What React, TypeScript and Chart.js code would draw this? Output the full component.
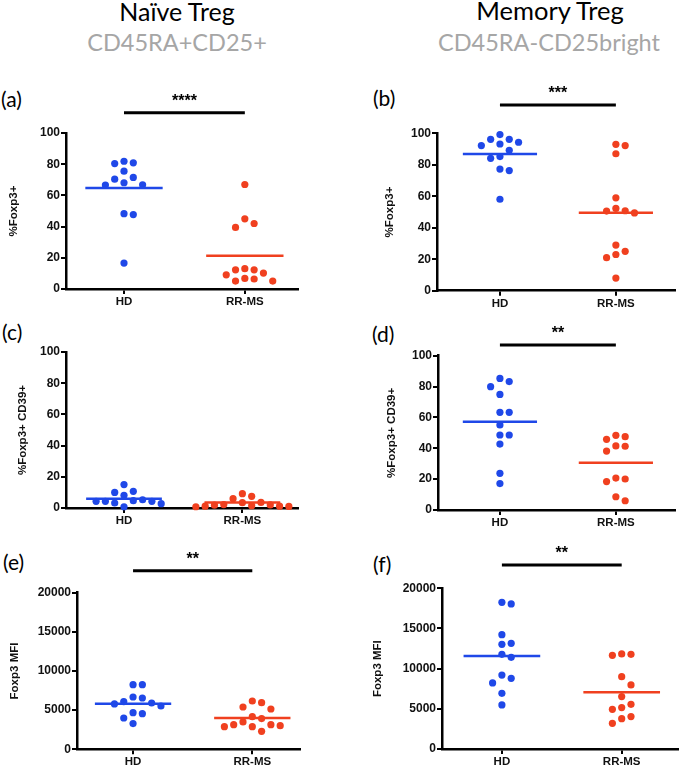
import React, { useEffect, useRef } from 'react';
import { Chart, registerables } from 'chart.js';
Chart.register(...registerables);

// ---------------- data ----------------
const categories = ['HD', 'RR-MS'];
const columnTitles = ['Naïve Treg', 'Memory Treg'];
const columnSubtitles = ['CD45RA+CD25+', 'CD45RA-CD25bright'];
const panelLabels = ['(a)', '(b)', '(c)', '(d)', '(e)', '(f)'];
const yTitles = ['%Foxp3+', '%Foxp3+', '%Foxp3+ CD39+', '%Foxp3+ CD39+', 'Foxp3 MFI', 'Foxp3 MFI'];
const yMaxes = [100, 100, 100, 100, 20000, 20000];
const yStepSizes = [20, 20, 20, 20, 5000, 5000];

const hdA = [80.4, 81.9, 80.9, 75.5, 71.5, 70.4, 68.1, 66.6, 66.8, 48.3, 47.7, 16.6];
const rrA = [67, 45, 42, 39.5, 9.1, 12.3, 12.3, 13, 10.2, 6.4, 5.1, 5.1, 6.8];
const hdB = [99.2, 96.2, 96.2, 93.2, 92.2, 94.3, 89.2, 85.2, 84.1, 77.3, 76.3, 58.1];
const rrB = [92.2, 93, 87, 59, 52.3, 50.8, 49.4, 50.6, 29, 23, 25, 21, 8];
const hdC = [15, 10, 10.7, 8.1, 5.3, 4.3, 4.3, 2.8, 0.8, 3.2, 4.3, 4.7];
const rrC = [9.2, 7.5, 6, 3.6, 3.4, 2, 1.2, 0.8, 1.2, 1.5, 1, 2.2, 1.8];
const hdD = [85.3, 83.2, 79.9, 74.9, 63.3, 63.3, 55.1, 48.6, 48.6, 42.7, 23.8, 17.1];
const rrD = [47.5, 45.8, 48.4, 41.5, 41.3, 38.2, 20.1, 20.7, 18.4, 8.6, 6.0];
const hdE = [8250, 8250, 6550, 6680, 5790, 5910, 6090, 5530, 4680, 4550, 4000, 3280];
const rrE = [6170, 5960, 5400, 5150, 4170, 3920, 3490, 3150, 3150, 3020, 2890, 2890, 2300];
const hdF = [18050, 18260, 14230, 13030, 13150, 11780, 11410, 9200, 8800, 8220, 6930, 5480];
const rrF = [11830, 11660, 11780, 9000, 7970, 6520, 5560, 5150, 4940, 4030, 3780, 3200];
const hdSeries = [hdA, hdB, hdC, hdD, hdE, hdF];
const rrSeries = [rrA, rrB, rrC, rrD, rrE, rrF];
const hdMeans = [64.7, 86.9, 6.0, 57.2, 5820, 11560];
const rrMeans = [21.3, 49.5, 3.6, 30.7, 4000, 7060];
const sigMarks = ['****', '***', '', '**', '**', '**'];
const sigLevels = [113, 118, null, 107, 22800, 22900];

// ---------------- styles / layout ----------------
const BLUE = '#1f48e8';
const RED = '#f0401f';
const FONT = "'Liberation Sans', Arial, sans-serif";
const DOT_R = 3.6;
const SWARM_STEP = 9.3;
const MEAN_HALF = 0.32;

const layouts = [
  { left: 0, top: 75, width: 340, height: 240, l: 66, t: 133, r: 298, b: 289, xMin: 0.52, xMax: 2.44, titleX: 14 },
  { left: 345, top: 75, width: 340, height: 240, l: 437, t: 133.3, r: 675, b: 290.7, xMin: 0.457, xMax: 2.51, titleX: 390 },
  { left: 0, top: 310, width: 340, height: 230, l: 66, t: 352, r: 298, b: 508, xMin: 0.51, xMax: 2.47, titleX: 23 },
  { left: 345, top: 305, width: 340, height: 235, l: 438, t: 355.7, r: 675, b: 510, xMin: 0.466, xMax: 2.51, titleX: 392 },
  { left: 0, top: 540, width: 340, height: 232, l: 77, t: 592.7, r: 300, b: 749.3, xMin: 0.53, xMax: 2.4, titleX: 15 },
  { left: 345, top: 540, width: 340, height: 232, l: 442, t: 588.3, r: 678, b: 749, xMin: 0.5, xMax: 2.47, titleX: 378 },
];

const labelPos = [
  { x: 1, y: 107 }, { x: 373, y: 106 }, { x: 2, y: 340 }, { x: 372, y: 341.7 }, { x: 3, y: 570 }, { x: 373, y: 571.7 },
];

const swarmPlugin = {
  id: 'swarm',
  afterDatasetsUpdate(chart: any) {
    chart.data.datasets.forEach((ds: any, di: number) => {
      if (!ds.swarm) return;
      const meta = chart.getDatasetMeta(di);
      const pts = meta.data.map((el: any) => ({ el, y: el.y, cx: el.x }));
      const order = pts.slice().sort((a: any, b: any) => a.y - b.y);
      const placed: { x: number; y: number }[] = [];
      for (const p of order) {
        for (let k = 0; k < 60; k++) {
          const off = k === 0 ? 0 : (k % 2 ? 1 : -1) * Math.ceil(k / 2) * SWARM_STEP;
          const x = p.cx + off;
          if (placed.every((q) => Math.hypot(q.x - x, q.y - p.y) >= SWARM_STEP * 0.97)) {
            p.el.x = x;
            placed.push({ x, y: p.y });
            break;
          }
        }
      }
    });
  },
};

const sigPlugin = {
  id: 'sig',
  afterDraw(chart: any) {
    const o = chart.options.plugins.sig;
    if (!o || o.level == null) return;
    const xs = chart.scales.x;
    const ys = chart.scales.y;
    const x1 = xs.getPixelForValue(1);
    const x2 = xs.getPixelForValue(2);
    const y = ys.getPixelForValue(o.level);
    const ctx = chart.ctx;
    ctx.save();
    ctx.strokeStyle = '#000';
    ctx.lineWidth = 3;
    ctx.beginPath();
    ctx.moveTo(x1, y);
    ctx.lineTo(x2, y);
    ctx.stroke();
    ctx.fillStyle = '#000';
    ctx.font = `bold 16px ${FONT}`;
    ctx.textAlign = 'center';
    ctx.textBaseline = 'alphabetic';
    ctx.fillText(o.text, (x1 + x2) / 2, y - 7);
    ctx.restore();
  },
};

function Panel({ idx }: { idx: number }) {
  const ref = useRef<HTMLCanvasElement>(null);
  const L = layouts[idx];
  useEffect(() => {
    if (!ref.current) return;
    const yAxisWidth = L.l - L.left;
    const xAxisHeight = L.top + L.height - L.b;
    const titleSize = 11.5;
    const chart = new Chart(ref.current, {
      type: 'scatter',
      data: {
        datasets: [
          {
            data: hdSeries[idx].map((v) => ({ x: 1, y: v })),
            backgroundColor: BLUE, borderColor: BLUE, pointRadius: DOT_R, pointBorderWidth: 0,
            clip: false, swarm: true, order: 2,
          } as any,
          {
            data: rrSeries[idx].map((v) => ({ x: 2, y: v })),
            backgroundColor: RED, borderColor: RED, pointRadius: DOT_R, pointBorderWidth: 0,
            clip: false, swarm: true, order: 2,
          } as any,
          {
            data: [{ x: 1 - MEAN_HALF, y: hdMeans[idx] }, { x: 1 + MEAN_HALF, y: hdMeans[idx] }],
            showLine: true, borderColor: BLUE, borderWidth: 2.5, pointRadius: 0, clip: false, order: 1,
          } as any,
          {
            data: [{ x: 2 - MEAN_HALF, y: rrMeans[idx] }, { x: 2 + MEAN_HALF, y: rrMeans[idx] }],
            showLine: true, borderColor: RED, borderWidth: 2.5, pointRadius: 0, clip: false, order: 1,
          } as any,
        ],
      },
      options: {
        animation: false,
        responsive: false,
        maintainAspectRatio: false,
        events: [],
        layout: {
          padding: { left: 0, top: L.t - L.top, right: L.left + L.width - L.r, bottom: 0 },
        },
        plugins: {
          legend: { display: false },
          tooltip: { enabled: false },
          sig: { level: sigLevels[idx], text: sigMarks[idx] },
        } as any,
        scales: {
          x: {
            type: 'linear',
            min: L.xMin,
            max: L.xMax,
            afterBuildTicks: (s: any) => { s.ticks = [{ value: 1 }, { value: 2 }]; },
            afterFit: (s: any) => { s.height = xAxisHeight; },
            ticks: {
              callback: (v: any) => categories[Math.round(v) - 1] ?? '',
              color: '#111', font: { family: FONT, size: 11.5, weight: 'bold' }, padding: 1,
              maxRotation: 0, autoSkip: false,
            },
            grid: { drawOnChartArea: false, drawTicks: true, tickLength: 5, color: '#000', lineWidth: 2 },
            border: { display: true, color: '#000', width: 2.5 },
          },
          y: {
            type: 'linear',
            min: 0,
            max: yMaxes[idx],
            afterFit: (s: any) => { s.width = yAxisWidth; },
            ticks: {
              stepSize: yStepSizes[idx],
              callback: (v: any) => String(v),
              color: '#111', font: { family: FONT, size: 12, weight: 'bold' }, padding: 1,
            },
            grid: { drawOnChartArea: false, drawTicks: true, tickLength: 5, color: '#000', lineWidth: 2 },
            border: { display: true, color: '#000', width: 2.5 },
            title: {
              display: true,
              text: yTitles[idx],
              color: '#111',
              font: { family: FONT, size: titleSize, weight: 'bold' },
              padding: { top: L.titleX - L.left - (titleSize * 1.2) / 2, bottom: 0 },
            },
          },
        },
      } as any,
      plugins: [swarmPlugin, sigPlugin],
    });
    return () => chart.destroy();
  }, [idx]);
  return (
    <canvas
      ref={ref}
      width={L.width}
      height={L.height}
      style={{ position: 'absolute', left: L.left, top: L.top, width: L.width, height: L.height }}
    />
  );
}

const TITLE_FONT = "Lato, 'Open Sans', sans-serif";

function Text({ text, cx, x, baseline, size, color, align }: any) {
  const style: any = {
    position: 'absolute',
    top: baseline - 0.887 * size,
    fontFamily: TITLE_FONT,
    fontSize: size,
    lineHeight: 1,
    color,
    whiteSpace: 'nowrap',
  };
  if (align === 'center') {
    style.left = cx;
    style.transform = 'translateX(-50%)';
  } else {
    style.left = x;
  }
  return <div style={style}>{text}</div>;
}

export default function App() {
  return (
    <div style={{ position: 'absolute', left: 0, top: 0, width: 685, height: 772, background: '#fff', overflow: 'hidden' }}>
      <Text text={columnTitles[0]} cx={177} baseline={20.7} size={25} color="#000" align="center" />
      <Text text={columnSubtitles[0]} cx={177} baseline={51.7} size={23.5} color="#a6a6a6" align="center" />
      <Text text={columnTitles[1]} cx={550} baseline={20.7} size={25.5} color="#000" align="center" />
      <Text text={columnSubtitles[1]} cx={549} baseline={51.7} size={23.5} color="#a6a6a6" align="center" />
      {panelLabels.map((t, i) => (
        <Text key={t} text={t} x={labelPos[i].x} baseline={labelPos[i].y} size={21} color="#000" align="left" />
      ))}
      {layouts.map((_, i) => (
        <Panel key={i} idx={i} />
      ))}
    </div>
  );
}
